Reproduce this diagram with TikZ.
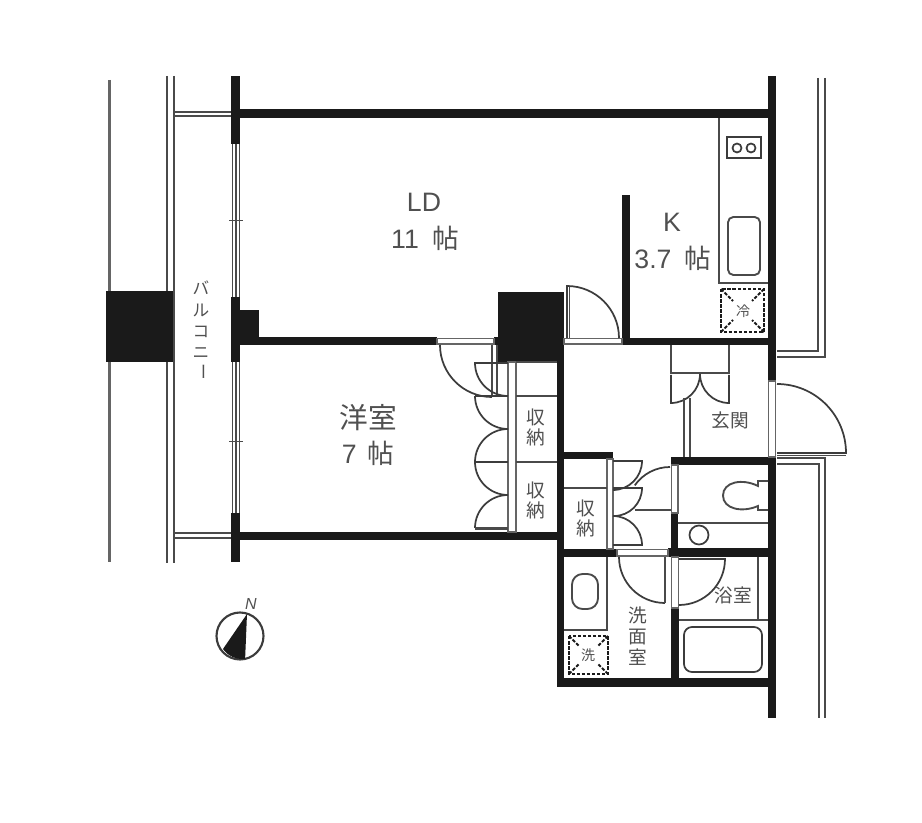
\documentclass[tikz,border=0pt]{standalone}
\usepackage{fontspec}
\setmainfont{Liberation Sans}
\newfontfamily\cjk{Noto Sans CJK JP}
\definecolor{ink}{HTML}{1A1A1A}
\definecolor{pen}{HTML}{4A4A4A}
\definecolor{lettering}{HTML}{505050}
\tikzset{
wall/.style={fill=ink},
fine/.style={draw=pen,line width=1.4pt},
rail/.style={draw=pen!85,line width=2pt},
panel/.style={draw=pen!85,line width=1.4pt,fill=white},
swing/.style={draw=ink!85,line width=1.3pt},
appliance/.style={draw=ink,line width=1.4pt,dash pattern=on 2.6pt off 1.2pt},
room/.style={text=lettering,font=\fontsize{20}{22}\selectfont,inner sep=0pt},
jroom/.style={text=lettering,font=\cjk\fontsize{21.5}{24}\selectfont,inner sep=0pt},
jsmall/.style={text=lettering,font=\cjk\fontsize{14}{16}\selectfont,inner sep=0pt},
jkana/.style={text=lettering,font=\cjk\fontsize{12.5}{15}\selectfont,inner sep=0pt},
jtiny/.style={text=lettering,font=\cjk\fontsize{10.5}{12}\selectfont,inner sep=0pt}
}
\begin{document}
\begin{tikzpicture}[x=0.75pt,y=0.75pt,yscale=-1]
\useasboundingbox (0,0) rectangle (922,823);
\draw[rail] (109.5,80) -- (109.5,562);
\draw[fine] (167,76) -- (167,563);
\draw[fine] (174,76) -- (174,563);
\draw[fine,line width=1.1pt] (174,112) -- (231,112) (174,116) -- (231,116);
\draw[fine,line width=1.1pt] (174,533) -- (231,533) (174,538) -- (231,538);
\fill[wall] (106,291) rectangle (173,362);
\draw[fine] (232.5,144) -- (232.5,513) (239.5,144) -- (239.5,513);
\draw[fine,line width=.8pt] (236,144) -- (236,513);
\draw[fine,line width=.6pt] (229,220) -- (243,220) (229,441) -- (243,441);
\fill[wall] (231,76) rectangle (240,144);
\fill[wall] (231,297) rectangle (240,362);
\fill[wall] (231,513) rectangle (240,562);
\fill[wall] (240,109) rectangle (768,118);
\fill[wall] (240,310) rectangle (259,345);
\fill[wall] (240,337) rectangle (437,345);
\fill[wall] (240,532) rectangle (557,540);
\fill[wall] (498,292) rectangle (564,362);
\fill[wall] (494,337) rectangle (498,345);
\fill[wall] (557,345) rectangle (564,687);
\fill[wall] (622,195) rectangle (630,345);
\fill[wall] (622,338) rectangle (768,345);
\fill[wall] (768,76) rectangle (776,381);
\fill[wall] (768,457) rectangle (776,718);
\fill[wall] (564,452) rectangle (613,459);
\fill[wall] (671,457) rectangle (768,465);
\fill[wall] (564,549) rectangle (617,557);
\fill[wall] (668,548) rectangle (768,557);
\fill[wall] (671,513) rectangle (678,548);
\fill[wall] (671,608) rectangle (679,678);
\fill[wall] (557,678) rectangle (776,687);
% doors to the rooms
\draw[panel] (437,338.5) rectangle (494,344);
\draw[panel] (564,338.5) rectangle (622,344);
\draw[panel] (768.5,381) rectangle (775.5,457);
\draw[panel] (617,549.5) rectangle (668,556);
\draw[panel] (671.5,465) rectangle (678,513);
\draw[panel] (671.5,557) rectangle (678.5,608);
\draw[swing] (567,338) -- (567,286) arc[start angle=-90,end angle=0,radius=52];
\draw[fine,line width=1.1pt] (569.5,338) -- (569.5,287);
\draw[swing] (777,384) arc[start angle=-90,end angle=0,radius=69] -- (777,453);
\draw[fine,line width=1.1pt] (777,455.5) -- (846,455.5);
\draw[swing] (440,345) arc[start angle=180,end angle=90,radius=52];
\draw[fine] (492,345) -- (492,396) (497,345) -- (497,396);
\draw[swing] (670,467) arc[start angle=-90,end angle=-145,radius=43];
\draw[fine] (635,510) -- (671,510);
\draw[swing] (619,557) arc[start angle=180,end angle=90,radius=46];
\draw[fine] (665,557) -- (665,603);
\draw[swing] (679,559) -- (725,559) arc[start angle=0,end angle=90,radius=46];
% closets
\draw[panel] (508,362) rectangle (516,532);
\draw[fine] (516,362) -- (557,362) (516,396) -- (557,396) (516,462) -- (557,462);
\draw[swing,line width=1.8pt] (475,396) -- (508,396) (475,462) -- (508,462);
\draw[swing] (508,363) -- (475,363) arc[start angle=180,end angle=90,radius=33];
\draw[swing] (475,396) arc[start angle=180,end angle=90,radius=33];
\draw[swing] (508,429) arc[start angle=-90,end angle=-180,radius=33];
\draw[swing] (475,462) arc[start angle=180,end angle=90,radius=33];
\draw[swing] (508,495) arc[start angle=-90,end angle=-180,radius=33];
\draw[fine,line width=1.8pt] (475,528.5) -- (508,528.5);
\draw[panel] (607,459) rectangle (613,549);
\draw[fine] (564,488) -- (607,488);
\draw[swing] (613,461) -- (642,461) arc[start angle=0,end angle=90,radius=29];
\draw[swing] (613,488) -- (642,488) arc[start angle=0,end angle=90,radius=28];
\draw[swing] (613,516) arc[start angle=-90,end angle=0,radius=29] -- (613,545);
% shoe cupboard
\draw[fine] (671,345) -- (671,373) -- (729,373) -- (729,345);
\draw[swing] (671,375) -- (671,403) arc[start angle=90,end angle=0,radius=29];
\draw[swing] (729,375) -- (729,403) arc[start angle=90,end angle=180,radius=29];
\draw[fine] (684,398) -- (684,457) (690,398) -- (690,457);
% kitchen
\draw[fine] (719,118) -- (719,283) -- (768,283);
\draw[swing,line width=1.5pt] (727,137) rectangle (761,158);
\draw[swing] (737,148) circle[radius=4.5] (751,148) circle[radius=4.5];
\draw[fine,rounded corners=4pt] (728,217) rectangle (760,275);
\draw[appliance] (721,289) rectangle (764,332);
\draw[appliance] (721,289) -- (733,301) (764,289) -- (752,301) (764,332) -- (752,320) (721,332) -- (733,320);
% toilet and bath
\draw[fine] (678,523) -- (768,523);
\draw[swing] (699,535) circle[radius=9.5];
\draw[fine] (768,481) -- (758,481) -- (758,486) .. controls (742,478) and (723,482) .. (723,495.5) .. controls (723,509) and (742,513) .. (758,506) -- (758,510) -- (768,510);
\draw[fine] (679,620) -- (768,620) (758,557) -- (758,620);
\draw[swing,rounded corners=6pt] (684,627) rectangle (762,672);
% washroom
\draw[fine] (607,557) -- (607,630) -- (564,630);
\draw[fine,rounded corners=8pt] (572,574) rectangle (598,609);
\draw[appliance] (569,636) rectangle (608,674);
\draw[appliance] (569,636) -- (579,646) (608,636) -- (598,646) (608,674) -- (598,664) (569,674) -- (579,664);
% compass
\draw[swing,line width=1.6pt] (240,636) circle[radius=23.5];
\fill[wall] (247,614) -- (223,649) arc[start angle=145,end angle=83,radius=23.5] -- cycle;
\node[text=lettering,font=\itshape\fontsize{12}{13}\selectfont,inner sep=0pt] (north) at (251,604) {N};
% labels
\node[room] (ld) at (424,202) {LD};
\node[room] (ldsize) at (425,238) {11\hspace{10pt}{\cjk 帖}};
\node[room] (k) at (672,222) {K};
\node[room] (ksize) at (673,258) {3.7\hspace{10pt}{\cjk 帖}};
\node[jroom] (western) at (368,418) {洋室};
\node[room] (westernsize) at (368,453) {7\hspace{8pt}{\cjk 帖}};
\node[jkana] (balcony1) at (201,288) {バ};
\node[jkana] (balcony2) at (201,310) {ル};
\node[jkana] (balcony3) at (201,332) {コ};
\node[jkana] (balcony4) at (201,353) {ニ};
\node[jkana,rotate=-90] (balcony5) at (201,372) {ー};
\node[jsmall] (closeta1) at (536,417) {収};
\node[jsmall] (closeta2) at (536,437) {納};
\node[jsmall] (closetb1) at (536,490) {収};
\node[jsmall] (closetb2) at (536,510) {納};
\node[jsmall] (closetc1) at (586,508) {収};
\node[jsmall] (closetc2) at (586,528) {納};
\node[jsmall] (entrance) at (730,420) {玄関};
\node[jsmall] (bath) at (733,595) {浴室};
\node[jsmall] (wash1) at (638,615) {洗};
\node[jsmall] (wash2) at (638,637) {面};
\node[jsmall] (wash3) at (638,657) {室};
\node[jtiny] (fridge) at (743,311) {冷};
\node[jtiny] (washer) at (588,655) {洗};
% outside lines
\draw[fine] (818,78) -- (818,351) -- (777,351);
\draw[fine] (825,78) -- (825,357) -- (777,357);
\draw[fine] (777,458) -- (825,458) -- (825,718);
\draw[fine] (777,464) -- (819,464) -- (819,718);
\end{tikzpicture}
\end{document}
